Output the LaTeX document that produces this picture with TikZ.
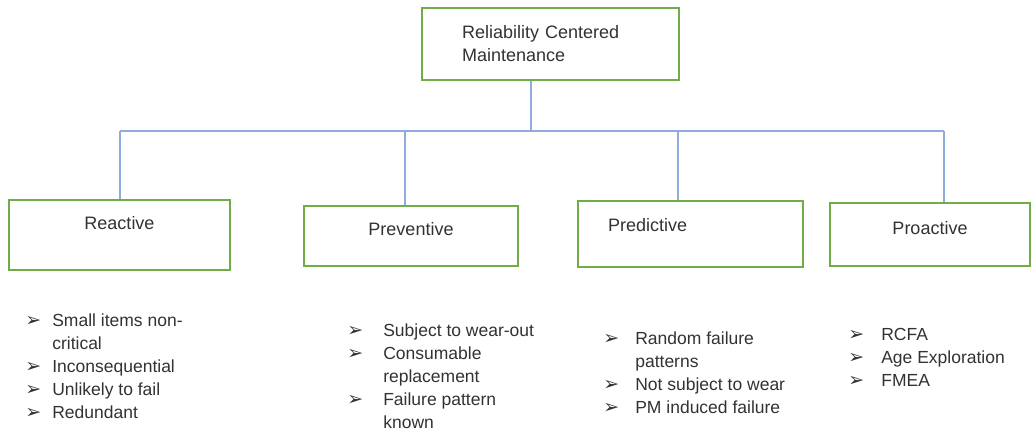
\documentclass[tikz,border=0pt]{standalone}
\usepackage{fontspec}
\setmainfont{Liberation Sans}
\newfontfamily\arrowfont{DejaVu Sans}
\definecolor{boxgreen}{RGB}{112,173,71}
\definecolor{linkblue}{RGB}{143,170,220}
\definecolor{inkgray}{RGB}{50,50,50}
\newcommand{\bul}{{\arrowfont\fontsize{19}{19}\selectfont ➢}}

\begin{document}
\begin{tikzpicture}[x=1pt, y=-1pt, semithick]
    \tikzset{catbox/.style={draw=boxgreen, line width=2.5pt, inner xsep=0pt, inner ysep=0pt, font=\fontsize{18}{23}\selectfont, text=inkgray},
             bullets/.style={anchor=base west, inner sep=0pt, font=\fontsize{17.5}{23}\selectfont, text=inkgray},
             link/.style={draw=linkblue, line width=1.5pt}};
    \useasboundingbox (0,0) rectangle (1032,432);
    \node[catbox, inner xsep=40pt, text width=177pt, align=left, minimum height=72pt] (rcm) at (550.5,44) {Reliability Centered\\Maintenance};
    \node[catbox, minimum width=221pt, text height=29.5pt, text depth=40.5pt] (reactive) at (119.5,235) {Reactive};
    \node[catbox, minimum width=214pt, text height=29.5pt, text depth=30.5pt] (preventive) at (411,236) {Preventive};
    \node[catbox, inner xsep=30pt, text width=165pt, align=left, text height=30.5pt, text depth=35.5pt] (predictive) at (690.5,234) {Predictive};
    \node[catbox, minimum width=200pt, text height=31.5pt, text depth=31.5pt] (proactive) at (930,234.5) {Proactive};
    \coordinate (hub) at (531,131);
    \coordinate (j1) at (120,131);
    \coordinate (j2) at (405,131);
    \coordinate (j3) at (678,131);
    \coordinate (j4) at (944,131);
    \draw[link] (rcm.south -| hub) -- (hub);
    \draw[link] (j1) -- (j4);
    \draw[link] (j1) -- (j1 |- reactive.north);
    \draw[link] (j2) -- (j2 |- preventive.north);
    \draw[link] (j3) -- (j3 |- predictive.north);
    \draw[link] (j4) -- (j4 |- proactive.north);
    \node[bullets] (reactlist) at (25,326) {\begin{tabular}[t]{@{}p{27pt}@{}l@{}}
        \bul & Small items non-\\ & critical\\ \bul & Inconsequential\\ \bul & Unlikely to fail\\ \bul & Redundant
    \end{tabular}};
    \node[bullets] (prevlist) at (347,336) {\begin{tabular}[t]{@{}p{36pt}@{}l@{}}
        \bul & Subject to wear-out\\ \bul & Consumable\\ & replacement\\ \bul & Failure pattern\\ & known
    \end{tabular}};
    \node[bullets] (predlist) at (603,344) {\begin{tabular}[t]{@{}p{32pt}@{}l@{}}
        \bul & Random failure\\ & patterns\\ \bul & Not subject to wear\\ \bul & PM induced failure
    \end{tabular}};
    \node[bullets] (proalist) at (848,340) {\begin{tabular}[t]{@{}p{33pt}@{}l@{}}
        \bul & RCFA\\ \bul & Age Exploration\\ \bul & FMEA
    \end{tabular}};
\end{tikzpicture}
\end{document}
